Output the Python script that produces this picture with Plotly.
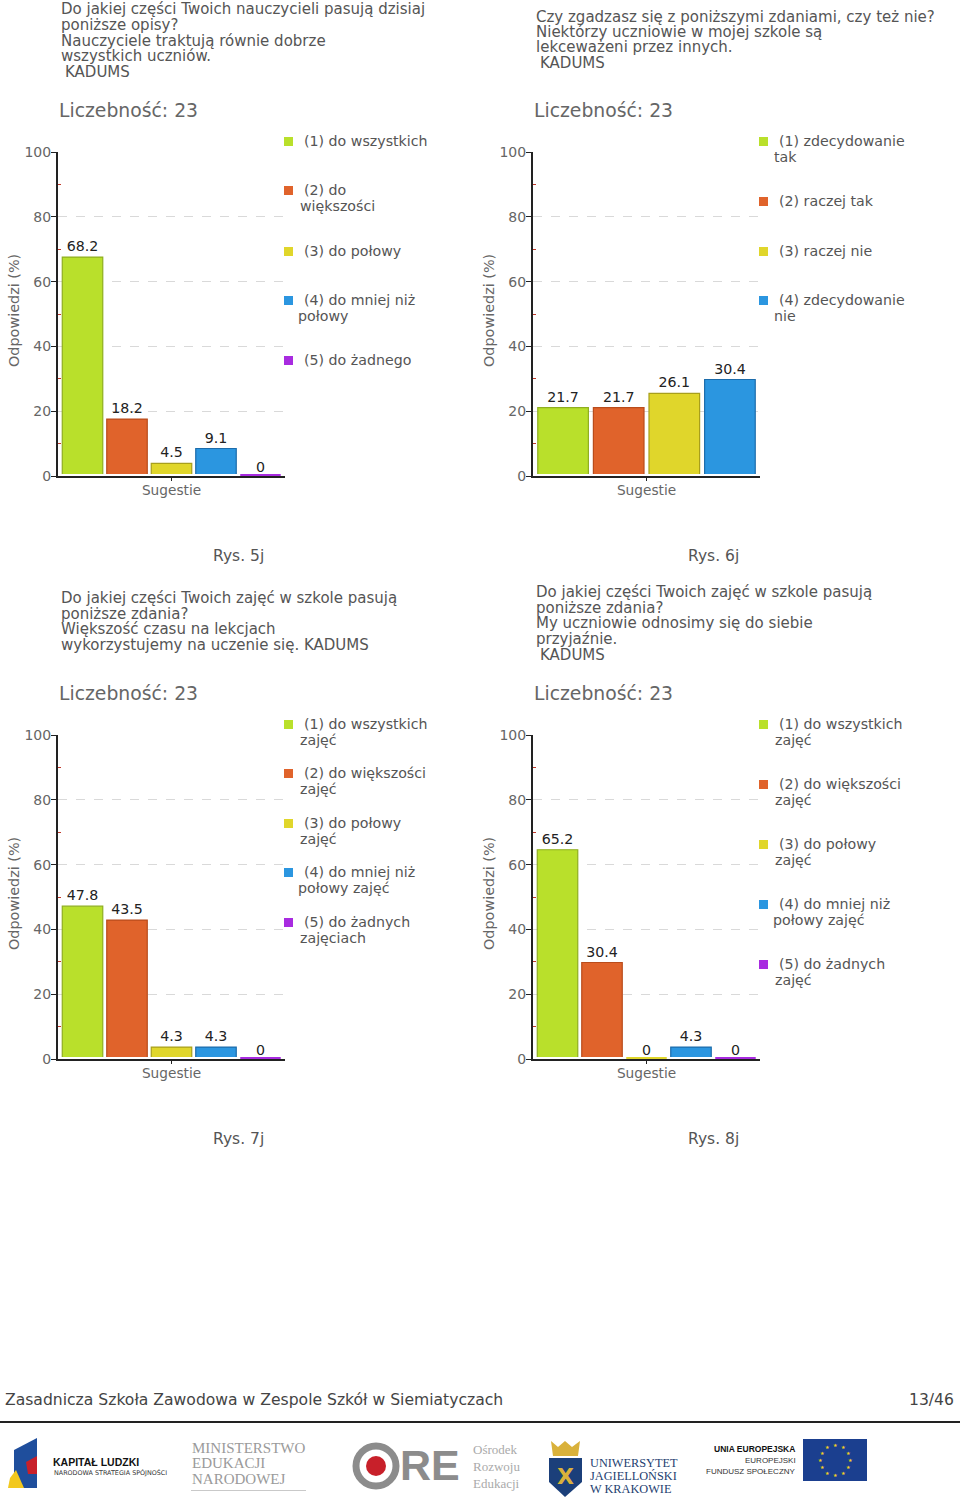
import plotly.graph_objects as go

W, H = 960, 1510
FONT = "DejaVu Sans"
BAR_COLORS = ["#b9e02b", "#e0632b", "#e0d62b", "#2b96e0", "#a82be0"]
BAR_LINES = ["#8fae1f", "#b94c1c", "#a89f1c", "#1c6cab", "#7f1cab"]

values_5j = [68.2, 18.2, 4.5, 9.1, 0]
values_6j = [21.7, 21.7, 26.1, 30.4]
values_7j = [47.8, 43.5, 4.3, 4.3, 0]
values_8j = [65.2, 30.4, 0, 4.3, 0]
labels_5j = ["68.2", "18.2", "4.5", "9.1", "0"]
labels_6j = ["21.7", "21.7", "26.1", "30.4"]
labels_7j = ["47.8", "43.5", "4.3", "4.3", "0"]
labels_8j = ["65.2", "30.4", "0", "4.3", "0"]
names_5j = ["(1) do wszystkich", "(2) do większości", "(3) do połowy", "(4) do mniej niż połowy", "(5) do żadnego"]
names_6j = ["(1) zdecydowanie tak", "(2) raczej tak", "(3) raczej nie", "(4) zdecydowanie nie"]
names_7j = ["(1) do wszystkich zajęć", "(2) do większości zajęć", "(3) do połowy zajęć", "(4) do mniej niż połowy zajęć", "(5) do żadnych zajęciach"]
names_8j = ["(1) do wszystkich zajęć", "(2) do większości zajęć", "(3) do połowy zajęć", "(4) do mniej niż połowy zajęć", "(5) do żadnych zajęć"]

panels = [
    dict(vals=values_5j, labs=labels_5j, names=names_5j, x0=58, y100=152, cap="Rys. 5j",
         head=[(60, 9, "Do jakiej części Twoich nauczycieli pasują dzisiaj"), (60, 25, "poniższe opisy?"),
               (60, 41, "Nauczyciele traktują równie dobrze"), (60, 56, "wszystkich uczniów."), (64, 72, "KADUMS")],
         leg=[(141, "(1) do wszystkich", None), (190, "(2) do", (299, "większości")), (251, "(3) do połowy", None),
              (300, "(4) do mniej niż", (297, "połowy")), (360, "(5) do żadnego", None)]),
    dict(vals=values_6j, labs=labels_6j, names=names_6j, x0=533, y100=152, cap="Rys. 6j",
         head=[(535, 17, "Czy zgadzasz się z poniższymi zdaniami, czy też nie?"), (535, 32, "Niektórzy uczniowie w mojej szkole są"),
               (535, 47, "lekceważeni przez innych."), (539, 63, "KADUMS")],
         leg=[(141, "(1) zdecydowanie", (773, "tak")), (201, "(2) raczej tak", None), (251, "(3) raczej nie", None),
              (300, "(4) zdecydowanie", (773, "nie"))]),
    dict(vals=values_7j, labs=labels_7j, names=names_7j, x0=58, y100=735, cap="Rys. 7j",
         head=[(60, 598, "Do jakiej części Twoich zajęć w szkole pasują"), (60, 614, "poniższe zdania?"),
               (60, 629, "Większość czasu na lekcjach"), (60, 645, "wykorzystujemy na uczenie się. KADUMS")],
         leg=[(724, "(1) do wszystkich", (299, "zajęć")), (773, "(2) do większości", (299, "zajęć")),
              (823, "(3) do połowy", (299, "zajęć")), (872, "(4) do mniej niż", (297, "połowy zajęć")),
              (922, "(5) do żadnych", (299, "zajęciach"))]),
    dict(vals=values_8j, labs=labels_8j, names=names_8j, x0=533, y100=735, cap="Rys. 8j",
         head=[(535, 592, "Do jakiej części Twoich zajęć w szkole pasują"), (535, 608, "poniższe zdania?"),
               (535, 623, "My uczniowie odnosimy się do siebie"), (535, 639, "przyjaźnie."), (539, 655, "KADUMS")],
         leg=[(724, "(1) do wszystkich", (774, "zajęć")), (784, "(2) do większości", (774, "zajęć")),
              (844, "(3) do połowy", (774, "zajęć")), (904, "(4) do mniej niż", (772, "połowy zajęć")),
              (964, "(5) do żadnych", (774, "zajęć"))]),
]

px = lambda x: x / W
py = lambda y: 1 - y / H
annotations, shapes = [], []

def text(x, y, s, size=14, color="#555555", anchor="left", family=FONT, **kw):
    annotations.append(dict(x=px(x), y=py(y), xref="paper", yref="paper", text=s, showarrow=False,
                            xanchor=anchor, yanchor="middle", align=anchor,
                            font=dict(family=family, size=size, color=color), borderpad=0, **kw))

def rect(x0, y0, x1, y1, fill, line=None):
    shapes.append(dict(type="rect", xref="paper", yref="paper", x0=px(x0), x1=px(x1), y0=py(y0), y1=py(y1),
                       fillcolor=fill, line=dict(width=0 if line is None else 1, color=line or fill), layer="above"))

def poly(points, fill):
    path = "M" + "L".join(f"{px(a):.5f},{py(b):.5f}" for a, b in points) + "Z"
    shapes.append(dict(type="path", xref="paper", yref="paper", path=path, fillcolor=fill, line=dict(width=0)))

fig = go.Figure()
layout_axes = {}
for i, p in enumerate(panels, start=1):
    sx = "" if i == 1 else str(i)
    bar_axis = str(i + 4)
    x0, y100 = p["x0"], p["y100"]
    n = len(p["vals"])
    rect(x0 + 2, y100 + 322, x0 + 227, y100 + 324, "white")
    rect(x0 - 1, y100 + 324, x0 + 227, y100 + 326, "#222222")
    # axis-only trace so the visible y axis keeps its own subplot
    fig.add_trace(go.Bar(x=["Sugestie"], y=[0], xaxis="x" + sx, yaxis="y" + sx, showlegend=False, hoverinfo="skip",
                         marker=dict(color="rgba(0,0,0,0)")))
    for j, (v, lab, name) in enumerate(zip(p["vals"], p["labs"], p["names"])):
        fig.add_trace(go.Bar(x=["Sugestie"], y=[v], name=name, text=[lab], textposition="outside",
                             textangle=0, cliponaxis=False, constraintext="none",
                             textfont=dict(family=FONT, size=14.2, color="#222222"),
                             marker=dict(color=BAR_COLORS[j], line=dict(color=BAR_LINES[j], width=1.2)),
                             xaxis="x" + sx, yaxis="y" + bar_axis, showlegend=False))
        if v == 0:
            slot = 227 * 0.98 / n
            left = x0 + 227 * 0.01 + slot * j
            rect(left + 2, y100 + 322, left + slot - 2, y100 + 324, BAR_COLORS[j])
    layout_axes["xaxis" + sx] = dict(domain=[px(x0), px(x0 + 227)], type="category", anchor="y" + sx,
                                     showgrid=False, showline=True, linecolor="#222222", linewidth=2,
                                     ticks="outside", ticklen=3, tickcolor="#222222", fixedrange=True,
                                     ticklabelstandoff=-2,
                                     tickfont=dict(family=FONT, size=13.7, color="#666666"))
    layout_axes["yaxis" + sx] = dict(domain=[py(y100 + 324), py(y100)], range=[0, 100], anchor="x" + sx,
                                     tickvals=[0, 20, 40, 60, 80, 100], showline=True, linecolor="#222222",
                                     linewidth=2, ticks="outside", ticklen=5, tickcolor="#222222",
                                     ticklabelstandoff=-3,
                                     showgrid=True, gridcolor="#d9d9d9", griddash="dash", gridwidth=1,
                                     zeroline=False,
                                     minor=dict(tickvals=[10, 30, 50, 70, 90], ticks="inside", ticklen=3,
                                                tickcolor="#c0392b", showgrid=False),
                                     tickfont=dict(family=FONT, size=14, color="#666666"), fixedrange=True)
    layout_axes["yaxis" + bar_axis] = dict(domain=[py(y100 + 326), py(y100 + 2)], anchor="x" + sx, range=[0, 100],
                                           visible=False, fixedrange=True, showgrid=False, zeroline=False)
    text(x0 - 44, y100 + 159, "Odpowiedzi (%)", size=14.4, color="#666666", anchor="center", textangle=-90)
    for x, y, s in p["head"]:
        text(x, y, s, size=15)
    text(x0, y100 - 42, "Liczebność: 23", size=18.8, color="#666666")
    text(x0 + 180, y100 + 403.5, p["cap"], size=15.5, anchor="center")
    for j, (y, first, second) in enumerate(p["leg"]):
        rect(x0 + 226, y - 4, x0 + 235, y + 5, BAR_COLORS[j])
        text(x0 + 245, y, first, size=14.2)
        if second:
            text(second[0], y + 16, second[1], size=14.2)

# footer
text(4, 1400, "Zasadnicza Szkoła Zawodowa w Zespole Szkół w Siemiatyczach", size=15.6, color="#444444")
text(955, 1400, "13/46", size=15.6, color="#444444", anchor="right")
rect(0, 1421, 960, 1423, "#222222")

# logo strip
SANS = "Liberation Sans"
poly([(14, 1450), (37, 1438), (37, 1488), (14, 1488)], "#1f4e9c")
poly([(10, 1478), (16, 1470), (24, 1488), (8, 1488)], "#f2c81e")
poly([(26, 1462), (37, 1456), (37, 1474), (28, 1474)], "#c8202a")
text(52, 1462, "<b>KAPITAŁ LUDZKI</b>", size=10.5, color="#111111", family=SANS)
text(53, 1473, "NARODOWA STRATEGIA SPÓJNOŚCI", size=6.4, color="#333333")
for y, s in [(1448, "MINISTERSTWO"), (1463, "EDUKACJI"), (1479, "NARODOWEJ")]:
    text(191, y, s, size=15, color="#9a9a9a", family="Liberation Serif")
rect(191, 1490, 306, 1491, "#c9c9c9")
shapes.append(dict(type="circle", xref="paper", yref="paper", x0=px(356), x1=px(396), y0=py(1486), y1=py(1446),
                   fillcolor="white", line=dict(width=7, color="#8c8c8c")))
shapes.append(dict(type="circle", xref="paper", yref="paper", x0=px(366), x1=px(386), y0=py(1476), y1=py(1456),
                   fillcolor="#c8202a", line=dict(width=0)))
text(399, 1465, "<b>RE</b>", size=43, color="#8c8c8c", family=SANS)
for y, s in [(1449, "Ośrodek"), (1466, "Rozwoju"), (1483, "Edukacji")]:
    text(472, y, s, size=13, color="#aaaaaa", family="Liberation Serif")
poly([(549, 1458), (582, 1458), (582, 1482), (565, 1497), (549, 1482)], "#1b3f7a")
poly([(551, 1441), (558, 1447), (565, 1441), (572, 1447), (580, 1441), (578, 1456), (553, 1456)], "#d9b13b")
text(565, 1476, "<b>X</b>", size=22, color="#d9b13b", anchor="center")
for y, s in [(1463, "UNIWERSYTET"), (1476, "JAGIELLOŃSKI"), (1489, "W KRAKOWIE")]:
    text(589, y, s, size=12.3, color="#23406f", family="Liberation Serif")
text(796, 1449, "<b>UNIA EUROPEJSKA</b>", size=8.5, color="#111111", anchor="right", family=SANS)
text(797, 1460, "EUROPEJSKI", size=8, color="#333333", anchor="right", family=SANS)
text(797, 1471, "FUNDUSZ SPOŁECZNY", size=8, color="#333333", anchor="right", family=SANS)
rect(803, 1439, 867, 1481, "#1b3f8f")
for dx, dy in [(0, -15), (8, -13), (13, -7), (15, 0), (13, 7), (8, 13), (0, 15), (-8, 13), (-13, 7), (-15, 0), (-13, -7), (-8, -13)]:
    text(835 + dx, 1460 + dy, "★", size=5, color="#f4d21f", anchor="center")

fig.update_layout(width=W, height=H, margin=dict(l=0, r=0, t=0, b=0, autoexpand=False), paper_bgcolor="white",
                  plot_bgcolor="rgba(0,0,0,0)",
                  barmode="group", bargap=0.02, bargroupgap=0.09, showlegend=False,
                  annotations=annotations, shapes=shapes, **layout_axes)
fig.write_html("out.html", post_script="document.body.style.margin='0';",
               config=dict(displayModeBar=False))
